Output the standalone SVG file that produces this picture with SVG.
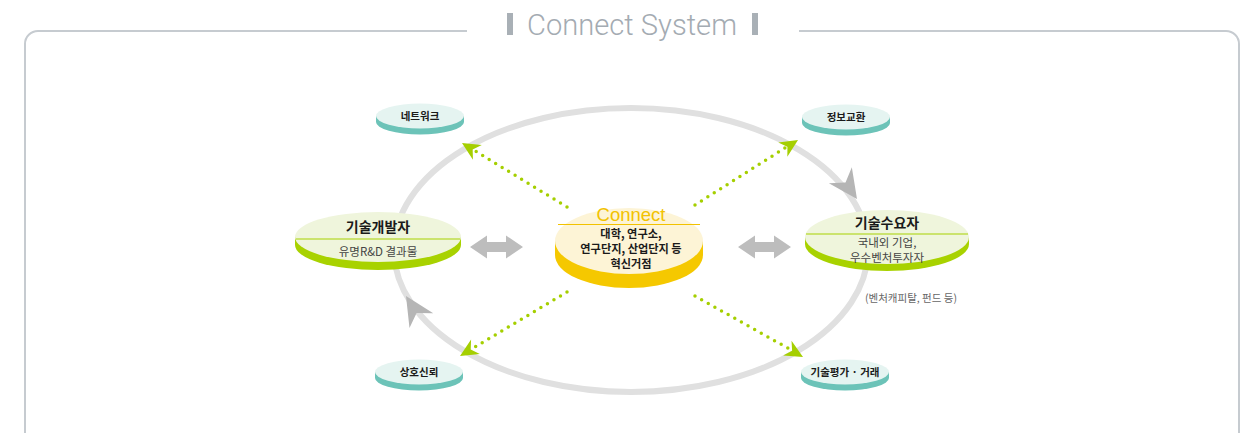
<svg xmlns="http://www.w3.org/2000/svg" xmlns:xlink="http://www.w3.org/1999/xlink" width="1258" height="433" viewBox="0 0 1258 433">
<style>
.kr{font-family:"Noto Sans CJK KR","Noto Sans",sans-serif;text-anchor:middle}
.b{font-weight:bold;fill:#1a1a1a}
.sub{fill:#444;font-size:11.5px}
.small{font-size:10.5px}
.dot{fill:none;stroke:#a5cf00;stroke-width:3.5;stroke-linecap:round;stroke-dasharray:0 7.6}
.tface{fill:#e5f4f1}
.tside{fill:#6cc3b8}
.gface{fill:#eff5dc}
.gside{fill:#a8d200}
</style>
<defs>
<path id="ga" d="M0,0 L-18,-8.5 L-12.5,0 L-18,8.5 Z" fill="#a5cf00"/>
<path id="ra" d="M0,0 L-29,-14 L-20,0 L-29,14 Z" fill="#b5b5b5"/>
<path id="dbl" d="M0,0 L17,-11.5 L17,-5 L36,-5 L36,-11.5 L53,0 L36,11.5 L36,5 L17,5 L17,11.5 Z" fill="#bdbdbd"/>
</defs>
<rect width="1258" height="433" fill="#ffffff"/>

<g id="frame" fill="none" stroke="#c6cbd0" stroke-width="2">
<path d="M25,450 V44 A13,13 0 0 1 38,31 H467"/>
<path d="M799,31 H1226 A13,13 0 0 1 1239,44 V450"/>
</g>

<g id="title">
<rect x="507" y="13" width="6" height="22" fill="#a9b0b6"/>
<rect x="752" y="13" width="6" height="22" fill="#a9b0b6"/>
<text x="632" y="35" font-family="Roboto, 'Liberation Sans', Arial, sans-serif" font-weight="300" font-size="30" fill="#a4abb2" text-anchor="middle" textLength="210" lengthAdjust="spacingAndGlyphs">Connect System</text>
</g>

<g id="ring">
<ellipse cx="631" cy="250" rx="237" ry="142" fill="none" stroke="#e0e0e0" stroke-width="6"/>
</g>

<g id="connectors">
<use xlink:href="#ra" transform="translate(857,199) rotate(55)"/>
<use xlink:href="#ra" transform="translate(406,296) rotate(-122)"/>
<line class="dot" x1="567" y1="207" x2="472" y2="149"/>
<line class="dot" x1="695" y1="205" x2="788" y2="146"/>
<line class="dot" x1="567" y1="292" x2="470" y2="350"/>
<line class="dot" x1="695" y1="296" x2="793" y2="351"/>
<use xlink:href="#ga" transform="translate(462,143) rotate(211.4)"/>
<use xlink:href="#ga" transform="translate(798,140) rotate(-32.3)"/>
<use xlink:href="#ga" transform="translate(460,356) rotate(149.1)"/>
<use xlink:href="#ga" transform="translate(803,357) rotate(29.5)"/>
<use xlink:href="#dbl" transform="translate(470,247)"/>
<use xlink:href="#dbl" transform="translate(738,247)"/>
</g>

<g id="node-developer">
<path class="gside" d="M295,237 V245 A83,25 0 0 0 461,245 V237 Z"/>
<ellipse class="gface" cx="378" cy="237" rx="83" ry="25"/>
<line x1="296" y1="239" x2="460" y2="239" stroke="#a8d200" stroke-width="1.2"/>
<text class="kr b" x="378" y="232" font-size="14">기술개발자</text>
<text class="kr sub" x="378" y="256">유명R&amp;D 결과물</text>
</g>

<g id="node-connect">
<path fill="#f5c800" d="M555,241 V255 A74,33 0 0 0 703,255 V241 Z"/>
<ellipse cx="629" cy="241" rx="74" ry="33" fill="#fdf4d6"/>
<line x1="558" y1="224.5" x2="700" y2="224.5" stroke="#f2c200" stroke-width="1.2"/>
<text x="631" y="221" font-family="Liberation Sans, Arial, sans-serif" font-size="18.5" fill="#f2c200" text-anchor="middle">Connect</text>
<text class="kr b" x="631" y="238" font-size="11.2">대학, 연구소,</text>
<text class="kr b" x="631" y="253" font-size="11.2">연구단지, 산업단지 등</text>
<text class="kr b" x="631" y="268" font-size="11.2">혁신거점</text>
</g>

<g id="node-demand">
<path class="gside" d="M805,237 V244 A82,27 0 0 0 969,244 V237 Z"/>
<ellipse class="gface" cx="887" cy="237" rx="82" ry="27"/>
<line x1="806" y1="234" x2="968" y2="234" stroke="#a8d200" stroke-width="1.2"/>
<text class="kr b" x="887" y="228" font-size="14">기술수요자</text>
<text class="kr sub" x="887" y="247" font-size="11">국내외 기업,</text>
<text class="kr sub" x="887" y="262" font-size="11">우수벤처투자자</text>
<text class="kr small" x="911" y="302" fill="#666">(벤처캐피탈, 펀드 등)</text>
</g>

<g id="node-network">
<path class="tside" d="M376,116 V122 A44,12.5 0 0 0 464,122 V116 Z"/>
<ellipse class="tface" cx="420" cy="116" rx="44" ry="12.5"/>
<text class="kr b small" x="420" y="120">네트워크</text>
</g>

<g id="node-info">
<path class="tside" d="M802,117 V123 A44,12.5 0 0 0 890,123 V117 Z"/>
<ellipse class="tface" cx="846" cy="117" rx="44" ry="12.5"/>
<text class="kr b small" x="846" y="121">정보교환</text>
</g>

<g id="node-trust">
<path class="tside" d="M375,372 V378 A44,12.5 0 0 0 463,378 V372 Z"/>
<ellipse class="tface" cx="419" cy="372" rx="44" ry="12.5"/>
<text class="kr b small" x="419" y="376">상호신뢰</text>
</g>

<g id="node-evaluation">
<path class="tside" d="M801,372 V378 A44,12.5 0 0 0 889,378 V372 Z"/>
<ellipse class="tface" cx="845" cy="372" rx="44" ry="12.5"/>
<text class="kr b small" x="845" y="376">기술평가 · 거래</text>
</g>
</svg>
